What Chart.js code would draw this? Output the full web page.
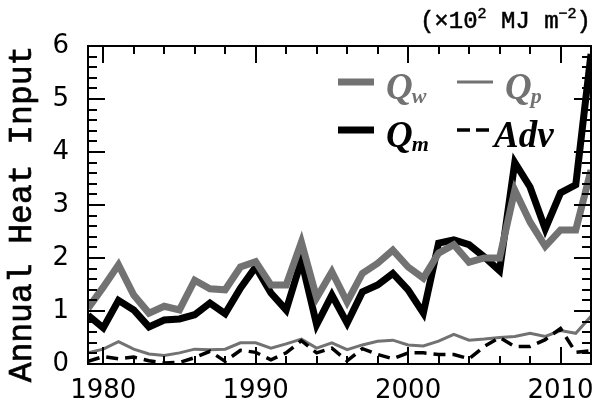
<!DOCTYPE html>
<html>
<head>
<meta charset="utf-8">
<script src="https://cdn.jsdelivr.net/npm/chart.js@4/dist/chart.umd.min.js"></script>
<style>
  html, body { margin: 0; padding: 0; background: #fff; }
  #wrap { width: 602px; height: 408px; }
</style>
</head>
<body>
<div id="wrap"><canvas id="heat"></canvas></div>
<script>
// values, x10^2 MJ m-2
const years = [1979, 1980, 1981, 1982, 1983, 1984, 1985, 1986, 1987, 1988, 1989, 1990, 1991, 1992, 1993, 1994, 1995,
    1996, 1997, 1998, 1999, 2000, 2001, 2002, 2003, 2004, 2005, 2006, 2007, 2008, 2009, 2010, 2011, 2012];
const qw = [1.05, 1.45, 1.87, 1.30, 0.96, 1.09, 1.02, 1.58, 1.42, 1.40, 1.83, 1.93, 1.49, 1.49, 2.30, 1.25, 1.74,
    1.17, 1.71, 1.90, 2.15, 1.83, 1.62, 2.09, 2.25, 1.92, 2.00, 2.00, 3.28, 2.68, 2.22, 2.53, 2.53, 3.66];
const qm = [0.92, 0.68, 1.20, 1.02, 0.70, 0.83, 0.85, 0.93, 1.15, 0.95, 1.43, 1.83, 1.34, 1.02, 1.96, 0.74, 1.30,
    0.77, 1.36, 1.49, 1.71, 1.40, 0.96, 2.28, 2.34, 2.25, 2.02, 1.76, 3.80, 3.34, 2.55, 3.23, 3.38, 5.85];
const qp = [0.21, 0.28, 0.42, 0.28, 0.19, 0.16, 0.21, 0.28, 0.27, 0.28, 0.40, 0.40, 0.30, 0.38, 0.47, 0.30, 0.40,
    0.27, 0.36, 0.43, 0.45, 0.36, 0.34, 0.43, 0.56, 0.45, 0.47, 0.50, 0.52, 0.58, 0.52, 0.63, 0.58, 0.90];
const adv = [0.05, 0.14, 0.10, 0.13, 0.06, 0.02, 0.03, 0.12, 0.24, 0.05, 0.26, 0.22, 0.08, 0.21, 0.44, 0.21, 0.30,
    0.06, 0.29, 0.18, 0.10, 0.21, 0.21, 0.18, 0.18, 0.10, 0.33, 0.50, 0.33, 0.33, 0.46, 0.67, 0.22, 0.25];

const xLabels = [1980, 1990, 2000, 2010];
const yLabels = [0, 1, 2, 3, 4, 5, 6];

const gray = '#727272';

const toPoints = (vals) => years.map((yr, i) => ({ x: yr, y: vals[i] }));

// box, inward ticks, legend and unit text
const decorations = {
    id: 'decorations',
    afterDatasetsDraw(chart) {
        const { ctx, chartArea: a, scales } = chart;
        const xs = scales.x;
        const ys = scales.y;
        ctx.save();
        ctx.strokeStyle = '#000';
        ctx.lineWidth = 2;
        ctx.lineCap = 'butt';
        ctx.beginPath();
        for (let yr = 1980; yr < 2012; yr += 2) {
            const px = Math.round(xs.getPixelForValue(yr));
            const len = xLabels.includes(yr) ? 17 : 8;
            ctx.moveTo(px, a.bottom); ctx.lineTo(px, a.bottom - len);
            ctx.moveTo(px, a.top); ctx.lineTo(px, a.top + len);
        }
        for (let k = 1; k < 30; k++) {
            const v = k / 5;
            const py = Math.round(ys.getPixelForValue(v));
            const len = k % 5 === 0 ? 17 : 9;
            ctx.moveTo(a.left, py); ctx.lineTo(a.left + len, py);
            ctx.moveTo(a.right, py); ctx.lineTo(a.right - len, py);
        }
        ctx.stroke();
        ctx.strokeRect(a.left, a.top, a.right - a.left, a.bottom - a.top);
        ctx.restore();
    },
    afterDraw(chart) {
        const { ctx } = chart;
        const sets = chart.data.datasets;
        ctx.save();

        const legendItem = (ds, x, y, main, sub, gap, dash) => {
            ctx.strokeStyle = ds.borderColor;
            ctx.lineWidth = ds.borderWidth;
            ctx.setLineDash(dash || []);
            ctx.beginPath();
            ctx.moveTo(x, y);
            ctx.lineTo(x + 36, y);
            ctx.stroke();
            ctx.setLineDash([]);
            ctx.fillStyle = ds.borderColor;
            ctx.textAlign = 'left';
            ctx.textBaseline = 'alphabetic';
            ctx.font = 'bold italic 37px "Liberation Serif"';
            ctx.fillText(main, x + gap, y + 17);
            if (sub) {
                const w = ctx.measureText(main).width;
                ctx.font = 'bold italic 22px "Liberation Serif"';
                ctx.fillText(sub, x + gap + w - 1, y + 21);
            }
        };
        legendItem(sets[0], 338, 82, 'Q', 'w', 48);
        legendItem(sets[2], 457, 82, 'Q', 'p', 48);
        legendItem(sets[1], 338, 130, 'Q', 'm', 48);
        legendItem(sets[3], 457, 130, 'Adv', '', 37, [13, 6]);

        // y title, slightly heavier like the original typewriter face
        ctx.fillStyle = '#000';
        ctx.strokeStyle = '#000';
        ctx.lineWidth = 0.7;
        ctx.font = '33px "Liberation Mono"';
        ctx.textAlign = 'center';
        ctx.textBaseline = 'middle';
        ctx.translate(22, 214);
        ctx.rotate(-Math.PI / 2);
        ctx.fillText('Annual Heat Input', 0, 0);
        ctx.strokeText('Annual Heat Input', 0, 0);
        ctx.setTransform(1, 0, 0, 1, 0, 0);

        // unit label with superscripts
        const parts = [['(\u00d710', 24, 0], ['2', 15, -10], [' MJ m', 24, 0], ['\u22122', 15, -10], [')', 24, 0]];
        ctx.textAlign = 'left';
        ctx.textBaseline = 'alphabetic';
        ctx.lineWidth = 0.5;
        let total = 0;
        parts.forEach(([t, s]) => {
            ctx.font = s + 'px "Liberation Mono"';
            total += ctx.measureText(t).width;
        });
        let x = 591 - total;
        parts.forEach(([t, s, dy]) => {
            ctx.font = s + 'px "Liberation Mono"';
            ctx.fillText(t, x, 28 + dy);
            ctx.strokeText(t, x, 28 + dy);
            x += ctx.measureText(t).width;
        });
        ctx.restore();
    }
};

new Chart(document.getElementById('heat'), {
    type: 'line',
    data: {
        datasets: [{
            label: 'Qw',
            data: toPoints(qw),
            borderColor: gray,
            borderWidth: 7,
            order: 1
        }, {
            label: 'Qm',
            data: toPoints(qm),
            borderColor: '#000',
            borderWidth: 7,
            order: 2
        }, {
            label: 'Qp',
            data: toPoints(qp),
            borderColor: gray,
            borderWidth: 3,
            order: 0
        }, {
            label: 'Adv',
            data: toPoints(adv),
            borderColor: '#000',
            borderWidth: 3.5,
            borderDash: [12, 7],
            order: -1
        }]
    },
    options: {
        responsive: true,
        maintainAspectRatio: false,
        animation: false,
        events: [],
        layout: { padding: { top: 46, right: 11, left: 0, bottom: 0 } },
        elements: {
            point: { radius: 0 },
            line: { tension: 0, fill: false, borderJoinStyle: 'miter', borderCapStyle: 'butt' }
        },
        plugins: {
            legend: { display: false },
            tooltip: { enabled: false }
        },
        scales: {
            x: {
                type: 'linear',
                min: 1979,
                max: 2012,
                grid: { display: false },
                border: { display: false },
                afterBuildTicks: (scale) => { scale.ticks = xLabels.map(v => ({ value: v })); },
                afterFit: (scale) => { scale.height = 44; },
                ticks: {
                    padding: 4,
                    color: '#000',
                    font: { family: 'DejaVu Sans', size: 26 },
                    callback: (v) => String(v)
                }
            },
            y: {
                min: 0,
                max: 6,
                grid: { display: false },
                border: { display: false },
                afterBuildTicks: (scale) => { scale.ticks = yLabels.map(v => ({ value: v })); },
                afterFit: (scale) => { scale.width = 88; },
                ticks: {
                    padding: 11,
                    color: '#000',
                    font: { family: 'DejaVu Sans', size: 26 }
                }
            }
        }
    },
    plugins: [decorations]
});
</script>
</body>
</html>
